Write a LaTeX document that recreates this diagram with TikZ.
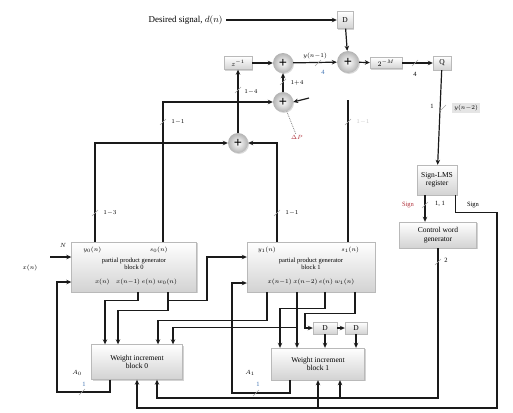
\documentclass[tikz,border=0pt]{standalone}
\usepackage{fontspec}
\setmainfont{Liberation Serif}
\usetikzlibrary{arrows.meta, positioning, calc, shadows}
\definecolor{Ink}{HTML}{1A1A1A}
\definecolor{BusBlue}{HTML}{3A6FB0}
\definecolor{SignRed}{HTML}{B0303A}

\begin{document}
\begin{tikzpicture}[
  x=1pt, y=-1pt,
  font=\fontsize{7.5}{8.5}\selectfont,
  blk/.style={draw=gray!55, top color=white, bottom color=gray!35, align=center, inner sep=1pt,
    drop shadow={shadow xshift=1.2pt, shadow yshift=-1.2pt, opacity=.35}},
  sumnode/.style={circle, minimum size=20pt, inner sep=0pt, inner color=white, outer color=gray!60,
    drop shadow={shadow xshift=1pt, shadow yshift=-1pt, opacity=.3}, font=\Large\bfseries},
  wire/.style={line width=1.2pt, draw=Ink},
  arr/.style={wire, -{Stealth[length=5pt, width=4.5pt]}},
  note/.style={font=\fontsize{6.5}{7.5}\selectfont, inner sep=1pt},
  pics/tick/.style={code={\draw[gray!70, thin] (-3pt,-3pt) -- (3pt,3pt);}}
]
\useasboundingbox (0,0) rectangle (513,412);

% top row
\node[anchor=east, font=\fontsize{9}{10}\selectfont] (desired) at (226,20) {Desired signal, $d(n)$};
\node[blk, minimum width=16pt, minimum height=17pt] (dly) at (345,20) {D};
\node[blk, minimum width=28pt, minimum height=13pt] (zinv) at (238,63) {$z^{-1}$};
\node[sumnode] (s1) at (283,63) {+};
\node[sumnode] (s2) at (283,102) {+};
\node[sumnode, minimum size=22pt] (s3) at (348,62) {+};
\node[sumnode] (s4) at (238,143) {+};
\node[blk, minimum width=32pt, minimum height=11pt] (shft) at (386,63) {$2^{-M}$};
\node[blk, minimum width=18pt, minimum height=14pt] (quant) at (442,63) {Q};

% right column
\node[blk, minimum width=40pt, minimum height=30pt] (lut) at (437,180) {Sign-LMS\\register};
\node[blk, minimum width=77pt, minimum height=26pt] (cwg) at (438,235) {Control word\\generator};

% processing elements
\node[blk, minimum width=125pt, minimum height=50pt] (pe0) at (134,267) {};
\node[note] (pe0tl) at ($(pe0.north west)+(21,8)$) {$y_0(n)$};
\node[note] (pe0tr) at ($(pe0.north east)+(-38,8)$) {$s_0(n)$};
\node[note, align=center] (pe0mid) at ($(pe0.center)+(0,-3)$) {partial product generator\\block 0};
\node[note] (pe0bot) at ($(pe0.center)+(2,15)$) {$x(n)$\quad$x(n{-}1)$\ $e(n)$\ $w_0(n)$};

\node[blk, minimum width=128pt, minimum height=50pt] (pe1) at (311,267) {};
\node[note] (pe1tl) at ($(pe1.north west)+(20,8)$) {$y_1(n)$};
\node[note] (pe1tr) at ($(pe1.north east)+(-25,8)$) {$s_1(n)$};
\node[note, align=center] (pe1mid) at ($(pe1.center)+(0,-3)$) {partial product generator\\block 1};
\node[note] (pe1bot) at ($(pe1.center)+(0,15)$) {$x(n{-}1)$\ $x(n{-}2)$\ $e(n)$\ $w_1(n)$};

% weight increment blocks
\node[blk, minimum width=91pt, minimum height=35pt] (wib0) at (137,362) {Weight increment\\block 0};
\node[blk, minimum width=93pt, minimum height=32pt] (wib1) at (318,364) {Weight increment\\block 1};
\node[blk, minimum width=24pt, minimum height=12pt] (d1) at (325,328) {D};
\node[blk, minimum width=22pt, minimum height=12pt] (d2) at (356,328) {D};

% free ends and bus corners
\coordinate (xsrc) at (50,257);
\coordinate (yout) at (348,100);
\coordinate (s2in) at (309,98);
\coordinate (signbus) at (497,408);
\coordinate (cwbus) at (438,398);
\coordinate (fb0) at (57,392);
\coordinate (fb1) at (232,393);
\coordinate (tap0) at ([xshift=34pt, yshift=-8pt]pe0.south);
\coordinate (tap1) at ([xshift=-14pt, yshift=-35pt]pe1.south);
\coordinate (w1cw) at ([xshift=22pt]wib1.south);

% top loop
\draw[arr] (desired) -- (dly);
\draw[arr] (dly) -- (s3);
\draw[arr] (zinv) -- (s1);
\draw[arr] (s1) -- node[note, above=2pt] {$y(n{-}1)$} (s3);
\draw[arr] (s2) -- (s1);
\draw[arr] (s3) -- (shft);
\draw[arr] (shft) -- (quant);
\draw[arr] (s4) -- (zinv);
\draw[arr] (s2in) -- (s2.east);
\node[note, text=SignRed] (cst) at (297,137) {$\Delta P$};
\draw[gray, densely dotted, thick] (cst) -- (s2);

% outputs of the processing elements
\draw[arr] ([xshift=-39pt]pe0.north) |- (s4);
\draw[arr] ([xshift=29pt]pe0.north) |- (s2);
\draw[arr] ([xshift=-34pt]pe1.north) |- (s4);
\draw[wire] ([xshift=37pt]pe1.north) -- (yout);

% sign path
\draw[arr] (quant) -- (lut);
\draw[arr] ([xshift=-12pt]lut.south) -- ([xshift=-13pt]cwg.north);
\draw[arr] ([xshift=-2pt]lut.south east) -- ++(0,17) -| (signbus) -| (wib0.south);
\draw[arr] (wib1.south |- signbus) -- (wib1.south);
\draw[arr] (cwg.south) -- (cwbus) -| ([xshift=20pt]wib0.south);
\draw[arr] (w1cw |- cwbus) -- (w1cw);

% inputs of block 0
\draw[arr] (xsrc) -- ([yshift=10pt]pe0.west);
\node[note] (xinlbl) at (63,245) {$N$};
\node[note] (xinsig) at (30,268) {$x(n)$};
\draw[arr] ([xshift=-27pt]wib0.south) |- (fb0) |- ([yshift=-15pt]pe0.west);
\draw[arr] ([xshift=-28pt]wib1.south) |- (fb1) |- ([yshift=-16pt]pe1.west);

% block 0 to the weight blocks
\draw[arr] ([xshift=4pt]pe0.south) -- ++(0,8) -| ([xshift=-32pt]wib0.north);
\draw[arr] ([xshift=34pt]pe0.south) -- ++(0,18) -| ([xshift=-19pt]wib0.north);
\draw[arr] (tap0) -- ++(39,0) |- ([yshift=10pt]pe1.west);

% block 1 to the weight blocks
\draw[arr] ([xshift=-44pt]pe1.south) -- ++(0,28) -| ([xshift=21pt]wib0.north);
\draw[arr] ([xshift=-14pt]pe1.south) -- ([xshift=-21pt]wib1.north);
\draw[arr] (tap1) -| ([xshift=36pt]wib0.north);
\draw[arr] ([xshift=14pt]pe1.south) -- ++(0,16) -| ([xshift=-38pt]wib1.north);
\draw[arr] ([xshift=44pt]pe1.south) -- ++(0,21) -- ++(-50,0) |- (d1.west);
\draw[arr] (d1) -- (d2);
\draw[arr] (d1) -- (d1 |- wib1.north);
\draw[arr] (d2) -- (d2 |- wib1.north);

% bus widths
\pic at (238,90) {tick};
\node[note] (w1) at (251,92) {$1{-}4$};
\pic at (283,82) {tick};
\node[note] (w2) at (297,83) {$1{+}4$};
\pic at (318,63) {tick};
\node[note, text=BusBlue] (w3) at (323,72) {4};
\pic at (95,213) {tick};
\node[note] (w4) at (110,213) {$1{-}3$};
\pic at (163,122) {tick};
\node[note] (w5) at (178,122) {$1{-}1$};
\pic at (277,213) {tick};
\node[note] (w6) at (292,213) {$1{-}1$};
\pic at (348,122) {tick};
\node[note, text=gray!45] (w7) at (363,122) {$1{-}1$};
\pic at (415,63) {tick};
\node[note] (w8) at (415,74) {4};
\pic at (443,108) {tick};
\node[note] (w9) at (432,106) {1};
\node[note, fill=gray!20, inner sep=2pt] (w10) at (466,108) {$y(n{-}2)$};
\pic at (425,205) {tick};
\node[note, text=SignRed] (w11) at (408,205) {Sign};
\node[note] (w12) at (440,204) {1, 1};
\node[note] (w13) at (473,205) {Sign};
\pic at (438,262) {tick};
\node[note] (w14) at (446,260) {2};
\node[note] (a0) at (77,373) {$A_0$};
\pic at (82,392) {tick};
\node[note, text=BusBlue] (w15) at (84,384) {1};
\node[note] (a1) at (250,373) {$A_1$};
\pic at (256,393) {tick};
\node[note, text=BusBlue] (w16) at (258,384) {1};
\end{tikzpicture}
\end{document}
